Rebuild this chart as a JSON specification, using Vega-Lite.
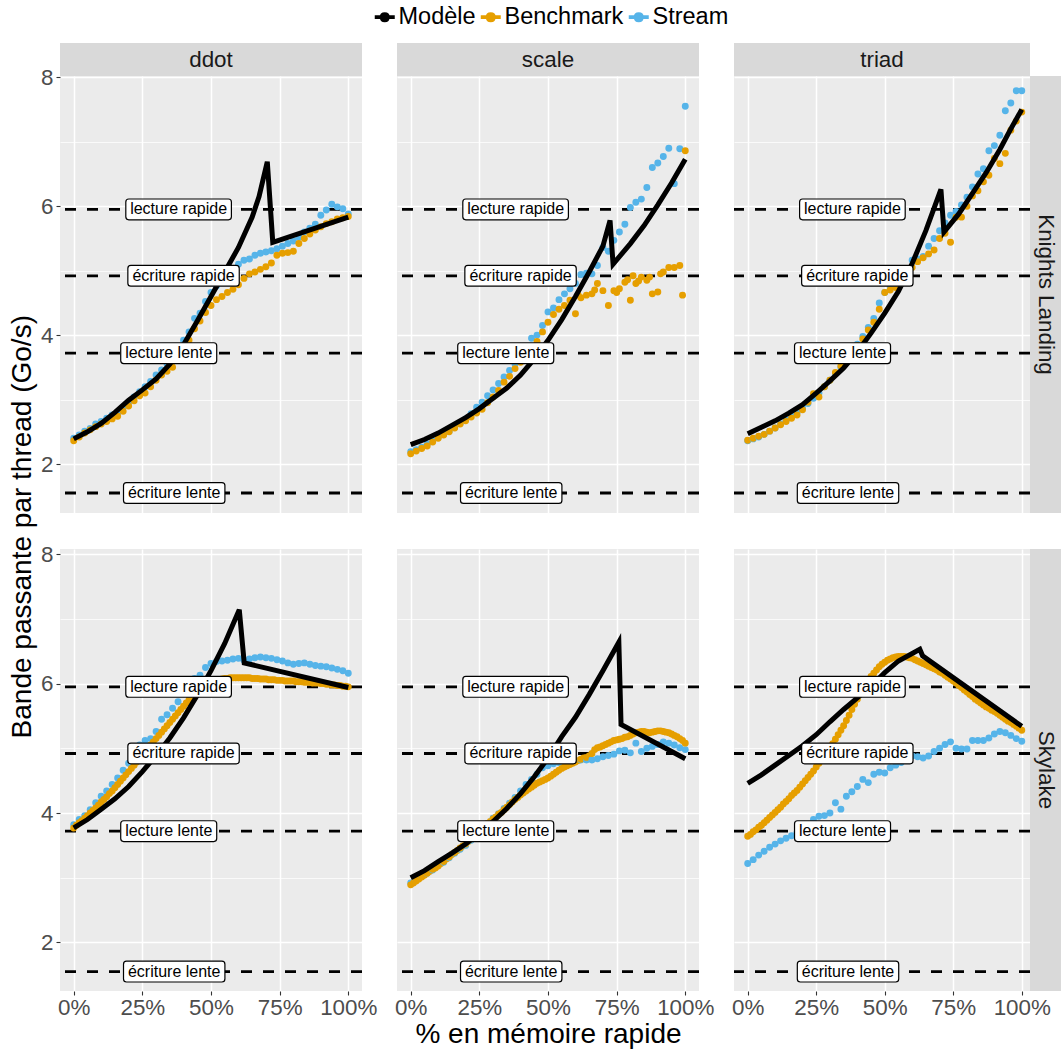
{
"$schema": "https://vega.github.io/schema/vega-lite/v6.json",
"padding": {"left": 8, "top": 5, "right": 0, "bottom": 0},
"background": "white",
"title": {"text": "Bande passante par thread (Go/s)", "orient": "left", "anchor": "middle", "fontSize": 28, "fontWeight": "normal", "font": "Liberation Sans", "color": "#000000", "offset": 4},
"config": {
 "font": "Liberation Sans",
 "view": {"stroke": null},
 "axis": {"domain": false, "gridColor": "#FFFFFF", "tickColor": "#333333", "tickSize": 4, "tickWidth": 1.1, "labelColor": "#4D4D4D", "labelFontSize": 22.4, "labelFont": "Liberation Sans", "labelPadding": 3, "titleFontSize": 28, "titleFont": "Liberation Sans", "titleFontWeight": "normal", "titleColor": "#000000", "labelFlush": false, "labelOverlap": false, "titlePadding": 2},
 "axisX": {"labelPadding": 1}
},
"datasets": {
 "hl": [
  {"y": 5.95, "lab": "lecture rapide", "lx": 0.382},
  {"y": 4.92, "lab": "écriture rapide", "lx": 0.40},
  {"y": 3.72, "lab": "lecture lente", "lx": 0.346},
  {"y": 1.55, "lab": "écriture lente", "lx": 0.366}
 ],
 "kd": [
  {"x":0,"Benchmark":2.36,"Stream":2.40},{"x":0.02,"Benchmark":2.42,"Stream":2.45},{"x":0.04,"Benchmark":2.48,"Stream":2.51},{"x":0.06,"Benchmark":2.53,"Stream":2.55},{"x":0.08,"Benchmark":2.58,"Stream":2.62},{"x":0.1,"Benchmark":2.62,"Stream":2.66},{"x":0.12,"Benchmark":2.66,"Stream":2.71},{"x":0.14,"Benchmark":2.70,"Stream":2.76},{"x":0.16,"Benchmark":2.74,"Stream":2.80},{"x":0.18,"Benchmark":2.82,"Stream":2.88},{"x":0.2,"Benchmark":2.90,"Stream":2.96},{"x":0.22,"Benchmark":2.98,"Stream":3.04},{"x":0.24,"Benchmark":3.06,"Stream":3.12},{"x":0.26,"Benchmark":3.10,"Stream":3.20},{"x":0.28,"Benchmark":3.20,"Stream":3.28},{"x":0.3,"Benchmark":3.30,"Stream":3.38},{"x":0.32,"Benchmark":3.38,"Stream":3.46},{"x":0.34,"Benchmark":3.44,"Stream":3.55},{"x":0.36,"Benchmark":3.50,"Stream":3.65},{"x":0.38,"Benchmark":3.66,"Stream":3.78},{"x":0.4,"Benchmark":3.82,"Stream":3.92},{"x":0.42,"Benchmark":3.92,"Stream":4.05},{"x":0.44,"Benchmark":4.10,"Stream":4.26},{"x":0.46,"Benchmark":4.22,"Stream":4.34},{"x":0.48,"Benchmark":4.35,"Stream":4.52},{"x":0.5,"Benchmark":4.46,"Stream":4.66},{"x":0.52,"Benchmark":4.55,"Stream":4.76},{"x":0.54,"Benchmark":4.60,"Stream":4.86},{"x":0.56,"Benchmark":4.66,"Stream":4.94},{"x":0.58,"Benchmark":4.71,"Stream":5.02},{"x":0.6,"Benchmark":4.78,"Stream":5.10},{"x":0.62,"Benchmark":4.88,"Stream":5.16},{"x":0.64,"Benchmark":4.95,"Stream":5.18},{"x":0.66,"Benchmark":4.98,"Stream":5.24},{"x":0.68,"Benchmark":5.02,"Stream":5.27},{"x":0.7,"Benchmark":5.06,"Stream":5.29},{"x":0.72,"Benchmark":5.12,"Stream":5.31},{"x":0.74,"Benchmark":5.24,"Stream":5.34},{"x":0.76,"Benchmark":5.27,"Stream":5.38},{"x":0.78,"Benchmark":5.28,"Stream":5.42},{"x":0.8,"Benchmark":5.30,"Stream":5.46},{"x":0.82,"Benchmark":5.42,"Stream":5.52},{"x":0.84,"Benchmark":5.50,"Stream":5.60},{"x":0.86,"Benchmark":5.57,"Stream":5.66},{"x":0.88,"Benchmark":5.63,"Stream":5.72},{"x":0.9,"Benchmark":5.68,"Stream":5.86},{"x":0.92,"Benchmark":5.73,"Stream":5.94},{"x":0.94,"Benchmark":5.76,"Stream":6.03},{"x":0.96,"Benchmark":5.80,"Stream":5.99},{"x":0.98,"Benchmark":5.82,"Stream":5.96},{"x":1,"Benchmark":5.84,"Stream":5.88}
 ],
 "ks": [
  {"x":0,"Benchmark":2.16,"Stream":2.19},{"x":0.02,"Benchmark":2.20,"Stream":2.22},{"x":0.04,"Benchmark":2.24,"Stream":2.26},{"x":0.06,"Benchmark":2.28,"Stream":2.31},{"x":0.08,"Benchmark":2.34,"Stream":2.36},{"x":0.1,"Benchmark":2.40,"Stream":2.41},{"x":0.12,"Benchmark":2.45,"Stream":2.46},{"x":0.14,"Benchmark":2.50,"Stream":2.51},{"x":0.16,"Benchmark":2.56,"Stream":2.57},{"x":0.18,"Benchmark":2.62,"Stream":2.63},{"x":0.2,"Benchmark":2.67,"Stream":2.70},{"x":0.22,"Benchmark":2.73,"Stream":2.78},{"x":0.24,"Benchmark":2.79,"Stream":2.88},{"x":0.26,"Benchmark":2.85,"Stream":2.96},{"x":0.28,"Benchmark":2.95,"Stream":3.06},{"x":0.3,"Benchmark":3.04,"Stream":3.15},{"x":0.32,"Benchmark":3.14,"Stream":3.25},{"x":0.34,"Benchmark":3.27,"Stream":3.35},{"x":0.36,"Benchmark":3.36,"Stream":3.45},{"x":0.38,"Benchmark":3.48,"Stream":3.55},{"x":0.4,"Benchmark":3.58,"Stream":3.68},{"x":0.42,"Benchmark":3.71,"Stream":3.80},{"x":0.44,"Benchmark":3.80,"Stream":3.95},{"x":0.46,"Benchmark":3.90,"Stream":4.00},{"x":0.48,"Benchmark":4.05,"Stream":4.15},{"x":0.5,"Benchmark":4.20,"Stream":4.36},{"x":0.52,"Benchmark":4.32,"Stream":4.42},{"x":0.54,"Benchmark":4.40,"Stream":4.55},{"x":0.56,"Benchmark":4.46,"Stream":4.64},{"x":0.58,"Benchmark":4.54,"Stream":4.72},{"x":0.6,"Benchmark":4.33,"Stream":4.80},{"x":0.61,"Benchmark":4.62},{"x":0.62,"Benchmark":4.58,"Stream":4.94},{"x":0.64,"Benchmark":4.62,"Stream":4.96},{"x":0.66,"Benchmark":4.64,"Stream":4.95},{"x":0.67,"Benchmark":4.70},{"x":0.68,"Benchmark":4.80,"Stream":5.08},{"x":0.7,"Benchmark":4.69,"Stream":5.36},{"x":0.72,"Benchmark":4.46,"Stream":5.30},{"x":0.74,"Benchmark":4.69,"Stream":5.47},{"x":0.75,"Benchmark":4.66},{"x":0.76,"Benchmark":4.72,"Stream":5.60},{"x":0.78,"Benchmark":4.82,"Stream":5.72},{"x":0.79,"Benchmark":4.86},{"x":0.8,"Benchmark":4.54,"Stream":5.98},{"x":0.81,"Benchmark":4.92},{"x":0.82,"Benchmark":4.80,"Stream":6.06},{"x":0.83,"Benchmark":4.84},{"x":0.84,"Benchmark":4.90,"Stream":6.11},{"x":0.86,"Benchmark":4.85,"Stream":6.29},{"x":0.87,"Benchmark":4.90},{"x":0.88,"Benchmark":4.64,"Stream":6.60},{"x":0.9,"Benchmark":4.67,"Stream":6.67},{"x":0.91,"Benchmark":4.95},{"x":0.92,"Benchmark":4.98,"Stream":6.77},{"x":0.94,"Benchmark":5.05,"Stream":6.90},{"x":0.96,"Benchmark":5.05,"Stream":6.35},{"x":0.98,"Benchmark":5.08,"Stream":6.89},{"x":0.99,"Benchmark":4.62},{"x":1,"Benchmark":6.86,"Stream":7.55}
 ],
 "kt": [
  {"x":0,"Benchmark":2.37,"Stream":2.36},{"x":0.02,"Benchmark":2.40,"Stream":2.39},{"x":0.04,"Benchmark":2.43,"Stream":2.42},{"x":0.06,"Benchmark":2.46,"Stream":2.46},{"x":0.08,"Benchmark":2.51,"Stream":2.51},{"x":0.1,"Benchmark":2.56,"Stream":2.56},{"x":0.12,"Benchmark":2.61,"Stream":2.62},{"x":0.14,"Benchmark":2.66,"Stream":2.68},{"x":0.16,"Benchmark":2.71,"Stream":2.74},{"x":0.18,"Benchmark":2.76,"Stream":2.80},{"x":0.2,"Benchmark":2.84,"Stream":2.87},{"x":0.22,"Benchmark":2.96,"Stream":2.94},{"x":0.24,"Benchmark":3.09,"Stream":3.02},{"x":0.26,"Benchmark":3.04,"Stream":3.10},{"x":0.28,"Benchmark":3.20,"Stream":3.20},{"x":0.3,"Benchmark":3.30,"Stream":3.30},{"x":0.32,"Benchmark":3.42,"Stream":3.40},{"x":0.34,"Benchmark":3.52,"Stream":3.50},{"x":0.36,"Benchmark":3.58,"Stream":3.62},{"x":0.38,"Benchmark":3.70,"Stream":3.74},{"x":0.4,"Benchmark":3.84,"Stream":3.86},{"x":0.42,"Benchmark":3.94,"Stream":3.98},{"x":0.44,"Benchmark":4.08,"Stream":4.12},{"x":0.46,"Benchmark":4.20,"Stream":4.26},{"x":0.48,"Benchmark":4.40,"Stream":4.50},{"x":0.5,"Benchmark":4.66,"Stream":4.66},{"x":0.52,"Benchmark":4.70,"Stream":4.76},{"x":0.54,"Benchmark":4.74,"Stream":4.84},{"x":0.56,"Benchmark":4.80,"Stream":4.92},{"x":0.58,"Benchmark":4.90,"Stream":5.00},{"x":0.6,"Benchmark":5.05,"Stream":5.16},{"x":0.62,"Benchmark":5.14,"Stream":5.18},{"x":0.64,"Benchmark":5.20,"Stream":5.22},{"x":0.66,"Benchmark":5.26,"Stream":5.38},{"x":0.68,"Benchmark":5.32,"Stream":5.50},{"x":0.7,"Benchmark":5.50,"Stream":5.62},{"x":0.72,"Benchmark":5.58,"Stream":5.74},{"x":0.74,"Benchmark":5.44,"Stream":5.86},{"x":0.76,"Benchmark":5.83,"Stream":5.92},{"x":0.78,"Benchmark":5.83,"Stream":6.02},{"x":0.8,"Benchmark":6.00,"Stream":6.14},{"x":0.82,"Benchmark":6.16,"Stream":6.30},{"x":0.84,"Benchmark":6.24,"Stream":6.50},{"x":0.86,"Benchmark":6.38,"Stream":6.58},{"x":0.88,"Benchmark":6.48,"Stream":6.86},{"x":0.9,"Benchmark":6.74,"Stream":6.94},{"x":0.92,"Benchmark":6.66,"Stream":7.10},{"x":0.94,"Benchmark":6.82,"Stream":7.48},{"x":0.96,"Benchmark":7.18,"Stream":7.60},{"x":0.98,"Benchmark":7.32,"Stream":7.79},{"x":1,"Benchmark":7.46,"Stream":7.79}
 ],
 "sd": [
  {"x":0,"Benchmark":3.77,"Stream":3.82},{"x":0.01,"Benchmark":3.81},{"x":0.02,"Benchmark":3.85,"Stream":3.90},{"x":0.03,"Benchmark":3.88},{"x":0.04,"Benchmark":3.92,"Stream":3.96},{"x":0.05,"Benchmark":3.96},{"x":0.06,"Benchmark":4.00,"Stream":4.05},{"x":0.07,"Benchmark":4.04},{"x":0.08,"Benchmark":4.08,"Stream":4.16},{"x":0.09,"Benchmark":4.12},{"x":0.1,"Benchmark":4.17,"Stream":4.26},{"x":0.11,"Benchmark":4.21},{"x":0.12,"Benchmark":4.25,"Stream":4.34},{"x":0.13,"Benchmark":4.30},{"x":0.14,"Benchmark":4.34,"Stream":4.44},{"x":0.15,"Benchmark":4.39},{"x":0.16,"Benchmark":4.44,"Stream":4.54},{"x":0.17,"Benchmark":4.49},{"x":0.18,"Benchmark":4.54,"Stream":4.66},{"x":0.19,"Benchmark":4.59},{"x":0.2,"Benchmark":4.64,"Stream":4.77},{"x":0.21,"Benchmark":4.69},{"x":0.22,"Benchmark":4.74,"Stream":4.88},{"x":0.23,"Benchmark":4.79},{"x":0.24,"Benchmark":4.85,"Stream":5.05},{"x":0.25,"Benchmark":4.90},{"x":0.26,"Benchmark":4.95,"Stream":5.12},{"x":0.27,"Benchmark":5.00},{"x":0.28,"Benchmark":5.05,"Stream":5.15},{"x":0.29,"Benchmark":5.10},{"x":0.3,"Benchmark":5.15,"Stream":5.26},{"x":0.31,"Benchmark":5.20},{"x":0.32,"Benchmark":5.25,"Stream":5.45},{"x":0.33,"Benchmark":5.30},{"x":0.34,"Benchmark":5.35,"Stream":5.52},{"x":0.35,"Benchmark":5.40},{"x":0.36,"Benchmark":5.45,"Stream":5.62},{"x":0.37,"Benchmark":5.50},{"x":0.38,"Benchmark":5.55,"Stream":5.72},{"x":0.39,"Benchmark":5.60},{"x":0.4,"Benchmark":5.65,"Stream":5.88},{"x":0.41,"Benchmark":5.70},{"x":0.42,"Benchmark":5.75,"Stream":6.00},{"x":0.43,"Benchmark":5.80},{"x":0.44,"Benchmark":5.84,"Stream":6.08},{"x":0.45,"Benchmark":5.88},{"x":0.46,"Benchmark":5.92,"Stream":6.13},{"x":0.47,"Benchmark":5.95},{"x":0.48,"Benchmark":5.98,"Stream":6.25},{"x":0.49,"Benchmark":6.00},{"x":0.5,"Benchmark":6.02,"Stream":6.31},{"x":0.51,"Benchmark":6.04},{"x":0.52,"Benchmark":6.05,"Stream":6.34},{"x":0.53,"Benchmark":6.06},{"x":0.54,"Benchmark":6.07,"Stream":6.35},{"x":0.55,"Benchmark":6.08},{"x":0.56,"Benchmark":6.08,"Stream":6.36},{"x":0.57,"Benchmark":6.09},{"x":0.58,"Benchmark":6.09,"Stream":6.38},{"x":0.59,"Benchmark":6.09},{"x":0.6,"Benchmark":6.09,"Stream":6.39},{"x":0.61,"Benchmark":6.09},{"x":0.62,"Benchmark":6.09,"Stream":6.36},{"x":0.63,"Benchmark":6.09},{"x":0.64,"Benchmark":6.09,"Stream":6.38},{"x":0.65,"Benchmark":6.08},{"x":0.66,"Benchmark":6.08,"Stream":6.40},{"x":0.67,"Benchmark":6.08},{"x":0.68,"Benchmark":6.07,"Stream":6.41},{"x":0.69,"Benchmark":6.07},{"x":0.7,"Benchmark":6.07,"Stream":6.40},{"x":0.71,"Benchmark":6.06},{"x":0.72,"Benchmark":6.06,"Stream":6.39},{"x":0.73,"Benchmark":6.06},{"x":0.74,"Benchmark":6.05,"Stream":6.37},{"x":0.75,"Benchmark":6.05},{"x":0.76,"Benchmark":6.05,"Stream":6.35},{"x":0.77,"Benchmark":6.04},{"x":0.78,"Benchmark":6.04,"Stream":6.32},{"x":0.79,"Benchmark":6.04},{"x":0.8,"Benchmark":6.04,"Stream":6.30},{"x":0.81,"Benchmark":6.03},{"x":0.82,"Benchmark":6.03,"Stream":6.31},{"x":0.83,"Benchmark":6.03},{"x":0.84,"Benchmark":6.02,"Stream":6.32},{"x":0.85,"Benchmark":6.02},{"x":0.86,"Benchmark":6.02,"Stream":6.30},{"x":0.87,"Benchmark":6.01},{"x":0.88,"Benchmark":6.01,"Stream":6.28},{"x":0.89,"Benchmark":6.01},{"x":0.9,"Benchmark":6.00,"Stream":6.27},{"x":0.91,"Benchmark":6.00},{"x":0.92,"Benchmark":5.99,"Stream":6.26},{"x":0.93,"Benchmark":5.99},{"x":0.94,"Benchmark":5.98,"Stream":6.24},{"x":0.95,"Benchmark":5.98},{"x":0.96,"Benchmark":5.97,"Stream":6.22},{"x":0.97,"Benchmark":5.97},{"x":0.98,"Benchmark":5.96,"Stream":6.20},{"x":0.99,"Benchmark":5.96},{"x":1,"Benchmark":5.95,"Stream":6.16}
 ],
 "ss": [
  {"x":0,"Benchmark":2.89,"Stream":2.92},{"x":0.01,"Benchmark":2.92},{"x":0.02,"Benchmark":2.95,"Stream":2.96},{"x":0.03,"Benchmark":2.98},{"x":0.04,"Benchmark":3.01,"Stream":3.02},{"x":0.05,"Benchmark":3.04},{"x":0.06,"Benchmark":3.07,"Stream":3.07},{"x":0.07,"Benchmark":3.10},{"x":0.08,"Benchmark":3.13,"Stream":3.12},{"x":0.09,"Benchmark":3.15},{"x":0.1,"Benchmark":3.18,"Stream":3.19},{"x":0.11,"Benchmark":3.22},{"x":0.12,"Benchmark":3.25,"Stream":3.24},{"x":0.13,"Benchmark":3.29},{"x":0.14,"Benchmark":3.32,"Stream":3.31},{"x":0.15,"Benchmark":3.36},{"x":0.16,"Benchmark":3.39,"Stream":3.38},{"x":0.17,"Benchmark":3.42},{"x":0.18,"Benchmark":3.46,"Stream":3.44},{"x":0.19,"Benchmark":3.49},{"x":0.2,"Benchmark":3.52,"Stream":3.50},{"x":0.21,"Benchmark":3.56},{"x":0.22,"Benchmark":3.60,"Stream":3.58},{"x":0.23,"Benchmark":3.64},{"x":0.24,"Benchmark":3.68,"Stream":3.66},{"x":0.25,"Benchmark":3.72},{"x":0.26,"Benchmark":3.76,"Stream":3.75},{"x":0.27,"Benchmark":3.80},{"x":0.28,"Benchmark":3.84,"Stream":3.84},{"x":0.29,"Benchmark":3.87},{"x":0.3,"Benchmark":3.91,"Stream":3.92},{"x":0.31,"Benchmark":3.94},{"x":0.32,"Benchmark":3.98,"Stream":3.99},{"x":0.33,"Benchmark":4.01},{"x":0.34,"Benchmark":4.05,"Stream":4.07},{"x":0.35,"Benchmark":4.09},{"x":0.36,"Benchmark":4.13,"Stream":4.15},{"x":0.37,"Benchmark":4.17},{"x":0.38,"Benchmark":4.21,"Stream":4.24},{"x":0.39,"Benchmark":4.24},{"x":0.4,"Benchmark":4.28,"Stream":4.34},{"x":0.41,"Benchmark":4.31},{"x":0.42,"Benchmark":4.34,"Stream":4.44},{"x":0.43,"Benchmark":4.37},{"x":0.44,"Benchmark":4.40,"Stream":4.52},{"x":0.45,"Benchmark":4.43},{"x":0.46,"Benchmark":4.46,"Stream":4.60},{"x":0.47,"Benchmark":4.48},{"x":0.48,"Benchmark":4.50,"Stream":4.70},{"x":0.49,"Benchmark":4.52},{"x":0.5,"Benchmark":4.54,"Stream":4.73},{"x":0.51,"Benchmark":4.57},{"x":0.52,"Benchmark":4.60,"Stream":4.76},{"x":0.53,"Benchmark":4.63},{"x":0.54,"Benchmark":4.66,"Stream":4.78},{"x":0.55,"Benchmark":4.69},{"x":0.56,"Benchmark":4.71,"Stream":4.80},{"x":0.57,"Benchmark":4.73},{"x":0.58,"Benchmark":4.75,"Stream":4.80},{"x":0.59,"Benchmark":4.77},{"x":0.6,"Benchmark":4.79,"Stream":4.81},{"x":0.61,"Benchmark":4.81},{"x":0.62,"Benchmark":4.83,"Stream":4.82},{"x":0.63,"Benchmark":4.85},{"x":0.64,"Benchmark":4.86,"Stream":4.82},{"x":0.65,"Benchmark":4.88},{"x":0.66,"Benchmark":4.92,"Stream":4.82},{"x":0.67,"Benchmark":4.98},{"x":0.68,"Benchmark":5.01,"Stream":4.84},{"x":0.69,"Benchmark":5.02},{"x":0.7,"Benchmark":5.04,"Stream":4.87},{"x":0.71,"Benchmark":5.06},{"x":0.72,"Benchmark":5.08,"Stream":4.89},{"x":0.73,"Benchmark":5.10},{"x":0.74,"Benchmark":5.12,"Stream":4.91},{"x":0.75,"Benchmark":5.13},{"x":0.76,"Benchmark":5.14,"Stream":4.96},{"x":0.77,"Benchmark":5.15},{"x":0.78,"Benchmark":5.17,"Stream":4.97},{"x":0.79,"Benchmark":5.18},{"x":0.8,"Benchmark":5.20,"Stream":4.93},{"x":0.81,"Benchmark":5.22},{"x":0.82,"Benchmark":5.24,"Stream":5.08},{"x":0.83,"Benchmark":5.25},{"x":0.84,"Benchmark":5.26,"Stream":4.95},{"x":0.85,"Benchmark":5.26},{"x":0.86,"Benchmark":5.25,"Stream":5.00},{"x":0.87,"Benchmark":5.24},{"x":0.88,"Benchmark":5.25,"Stream":5.03},{"x":0.89,"Benchmark":5.26},{"x":0.9,"Benchmark":5.27,"Stream":5.06},{"x":0.91,"Benchmark":5.27},{"x":0.92,"Benchmark":5.26,"Stream":5.10},{"x":0.93,"Benchmark":5.25},{"x":0.94,"Benchmark":5.24,"Stream":5.08},{"x":0.95,"Benchmark":5.22},{"x":0.96,"Benchmark":5.20,"Stream":5.05},{"x":0.97,"Benchmark":5.18},{"x":0.98,"Benchmark":5.15,"Stream":5.01},{"x":0.99,"Benchmark":5.12},{"x":1,"Benchmark":5.08,"Stream":4.98}
 ],
 "st": [
  {"x":0,"Benchmark":3.64,"Stream":3.22},{"x":0.01,"Benchmark":3.67},{"x":0.02,"Benchmark":3.71,"Stream":3.28},{"x":0.03,"Benchmark":3.74},{"x":0.04,"Benchmark":3.78,"Stream":3.35},{"x":0.05,"Benchmark":3.81},{"x":0.06,"Benchmark":3.85,"Stream":3.41},{"x":0.07,"Benchmark":3.89},{"x":0.08,"Benchmark":3.93,"Stream":3.47},{"x":0.09,"Benchmark":3.97},{"x":0.1,"Benchmark":4.01,"Stream":3.52},{"x":0.11,"Benchmark":4.05},{"x":0.12,"Benchmark":4.09,"Stream":3.57},{"x":0.13,"Benchmark":4.14},{"x":0.14,"Benchmark":4.18,"Stream":3.61},{"x":0.15,"Benchmark":4.22},{"x":0.16,"Benchmark":4.27,"Stream":3.65},{"x":0.17,"Benchmark":4.31},{"x":0.18,"Benchmark":4.35,"Stream":3.70},{"x":0.19,"Benchmark":4.40},{"x":0.2,"Benchmark":4.45,"Stream":3.74},{"x":0.21,"Benchmark":4.50},{"x":0.22,"Benchmark":4.55,"Stream":3.80},{"x":0.23,"Benchmark":4.60},{"x":0.24,"Benchmark":4.65,"Stream":3.90},{"x":0.25,"Benchmark":4.71},{"x":0.26,"Benchmark":4.77,"Stream":3.95},{"x":0.27,"Benchmark":4.83},{"x":0.28,"Benchmark":4.88,"Stream":3.96},{"x":0.29,"Benchmark":4.94},{"x":0.3,"Benchmark":5.00,"Stream":4.00},{"x":0.31,"Benchmark":5.07},{"x":0.32,"Benchmark":5.14,"Stream":4.16},{"x":0.33,"Benchmark":5.21},{"x":0.34,"Benchmark":5.28,"Stream":4.06},{"x":0.35,"Benchmark":5.35},{"x":0.36,"Benchmark":5.43,"Stream":4.26},{"x":0.37,"Benchmark":5.51},{"x":0.38,"Benchmark":5.60,"Stream":4.33},{"x":0.39,"Benchmark":5.68},{"x":0.4,"Benchmark":5.76,"Stream":4.41},{"x":0.41,"Benchmark":5.84},{"x":0.42,"Benchmark":5.92,"Stream":4.52},{"x":0.43,"Benchmark":5.99},{"x":0.44,"Benchmark":6.05,"Stream":4.47},{"x":0.45,"Benchmark":6.11},{"x":0.46,"Benchmark":6.16,"Stream":4.60},{"x":0.47,"Benchmark":6.21},{"x":0.48,"Benchmark":6.26,"Stream":4.63},{"x":0.49,"Benchmark":6.30},{"x":0.5,"Benchmark":6.33,"Stream":4.62},{"x":0.51,"Benchmark":6.36},{"x":0.52,"Benchmark":6.38,"Stream":4.70},{"x":0.53,"Benchmark":6.40},{"x":0.54,"Benchmark":6.41,"Stream":4.74},{"x":0.55,"Benchmark":6.42},{"x":0.56,"Benchmark":6.42,"Stream":4.78},{"x":0.57,"Benchmark":6.42},{"x":0.58,"Benchmark":6.41,"Stream":4.82},{"x":0.59,"Benchmark":6.40},{"x":0.6,"Benchmark":6.39,"Stream":4.88},{"x":0.61,"Benchmark":6.37},{"x":0.62,"Benchmark":6.35,"Stream":4.87},{"x":0.63,"Benchmark":6.33},{"x":0.64,"Benchmark":6.31,"Stream":4.85},{"x":0.65,"Benchmark":6.29},{"x":0.66,"Benchmark":6.27,"Stream":4.88},{"x":0.67,"Benchmark":6.25},{"x":0.68,"Benchmark":6.23,"Stream":4.95},{"x":0.69,"Benchmark":6.21},{"x":0.7,"Benchmark":6.18,"Stream":5.00},{"x":0.71,"Benchmark":6.16},{"x":0.72,"Benchmark":6.13,"Stream":5.06},{"x":0.73,"Benchmark":6.10},{"x":0.74,"Benchmark":6.07,"Stream":5.10},{"x":0.75,"Benchmark":6.04},{"x":0.76,"Benchmark":6.01,"Stream":5.00},{"x":0.77,"Benchmark":5.97},{"x":0.78,"Benchmark":5.94,"Stream":4.99},{"x":0.79,"Benchmark":5.90},{"x":0.8,"Benchmark":5.87,"Stream":4.99},{"x":0.81,"Benchmark":5.83},{"x":0.82,"Benchmark":5.80,"Stream":5.12},{"x":0.83,"Benchmark":5.76},{"x":0.84,"Benchmark":5.73,"Stream":5.12},{"x":0.85,"Benchmark":5.70},{"x":0.86,"Benchmark":5.67,"Stream":5.12},{"x":0.87,"Benchmark":5.64},{"x":0.88,"Benchmark":5.62,"Stream":5.16},{"x":0.89,"Benchmark":5.59},{"x":0.9,"Benchmark":5.57,"Stream":5.22},{"x":0.91,"Benchmark":5.54},{"x":0.92,"Benchmark":5.51,"Stream":5.26},{"x":0.93,"Benchmark":5.48},{"x":0.94,"Benchmark":5.45,"Stream":5.24},{"x":0.95,"Benchmark":5.42},{"x":0.96,"Benchmark":5.40,"Stream":5.20},{"x":0.97,"Benchmark":5.37},{"x":0.98,"Benchmark":5.34,"Stream":5.15},{"x":0.99,"Benchmark":5.31},{"x":1,"Benchmark":5.28,"Stream":5.11}
 ],
 "kdm": [{"x":0,"y":2.39},{"x":0.05,"y":2.5},{"x":0.1,"y":2.63},{"x":0.15,"y":2.8},{"x":0.2,"y":2.99},{"x":0.25,"y":3.15},{"x":0.3,"y":3.32},{"x":0.35,"y":3.55},{"x":0.4,"y":3.85},{"x":0.45,"y":4.22},{"x":0.5,"y":4.6},{"x":0.55,"y":4.98},{"x":0.6,"y":5.36},{"x":0.65,"y":5.83},{"x":0.675,"y":6.15},{"x":0.705,"y":6.69},{"x":0.725,"y":5.44},{"x":1,"y":5.83}],
 "ksm": [{"x":0,"y":2.3},{"x":0.05,"y":2.38},{"x":0.1,"y":2.48},{"x":0.15,"y":2.6},{"x":0.2,"y":2.72},{"x":0.25,"y":2.86},{"x":0.3,"y":3.02},{"x":0.35,"y":3.18},{"x":0.4,"y":3.38},{"x":0.45,"y":3.63},{"x":0.5,"y":3.92},{"x":0.55,"y":4.24},{"x":0.6,"y":4.6},{"x":0.65,"y":4.98},{"x":0.7,"y":5.38},{"x":0.726,"y":5.78},{"x":0.737,"y":5.1},{"x":0.8,"y":5.42},{"x":0.85,"y":5.7},{"x":0.9,"y":6.02},{"x":0.95,"y":6.36},{"x":1,"y":6.73}],
 "ktm": [{"x":0,"y":2.47},{"x":0.05,"y":2.57},{"x":0.1,"y":2.67},{"x":0.15,"y":2.79},{"x":0.2,"y":2.92},{"x":0.25,"y":3.1},{"x":0.3,"y":3.29},{"x":0.35,"y":3.49},{"x":0.4,"y":3.74},{"x":0.45,"y":4.03},{"x":0.5,"y":4.34},{"x":0.55,"y":4.68},{"x":0.6,"y":5.11},{"x":0.65,"y":5.62},{"x":0.705,"y":6.26},{"x":0.716,"y":5.6},{"x":0.77,"y":5.88},{"x":0.82,"y":6.2},{"x":0.87,"y":6.52},{"x":0.92,"y":6.88},{"x":0.96,"y":7.2},{"x":1,"y":7.5}],
 "sdm": [{"x":0,"y":3.77},{"x":0.05,"y":3.9},{"x":0.1,"y":4.06},{"x":0.15,"y":4.22},{"x":0.2,"y":4.41},{"x":0.25,"y":4.64},{"x":0.3,"y":4.89},{"x":0.35,"y":5.16},{"x":0.4,"y":5.47},{"x":0.45,"y":5.82},{"x":0.5,"y":6.2},{"x":0.55,"y":6.62},{"x":0.603,"y":7.14},{"x":0.621,"y":6.32},{"x":1,"y":5.94}],
 "ssm": [{"x":0,"y":3.0},{"x":0.05,"y":3.11},{"x":0.1,"y":3.25},{"x":0.15,"y":3.38},{"x":0.2,"y":3.52},{"x":0.25,"y":3.69},{"x":0.3,"y":3.87},{"x":0.35,"y":4.07},{"x":0.4,"y":4.3},{"x":0.45,"y":4.56},{"x":0.5,"y":4.85},{"x":0.55,"y":5.18},{"x":0.6,"y":5.48},{"x":0.65,"y":5.83},{"x":0.7,"y":6.2},{"x":0.758,"y":6.64},{"x":0.766,"y":5.37},{"x":1,"y":4.84}],
 "stm": [{"x":0,"y":4.46},{"x":0.05,"y":4.59},{"x":0.1,"y":4.74},{"x":0.15,"y":4.89},{"x":0.2,"y":5.04},{"x":0.25,"y":5.21},{"x":0.3,"y":5.41},{"x":0.35,"y":5.6},{"x":0.4,"y":5.78},{"x":0.45,"y":5.96},{"x":0.5,"y":6.17},{"x":0.55,"y":6.35},{"x":0.628,"y":6.53},{"x":0.638,"y":6.43},{"x":1,"y":5.34}]
},
"columns": 6,
"spacing": 0,
"bounds": "flush",
"align": "each",
"concat": [
 {"width": 302, "height": 33, "view": {"fill": "#D9D9D9", "stroke": null}, "data": {"values": [{"t": "ddot"}]}, "mark": {"type": "text", "fontSize": 22.4, "font": "Liberation Sans", "color": "#1A1A1A", "baseline": "middle", "align": "center"}, "encoding": {"text": {"field": "t"}}},
 {"width": 35, "height": 33, "data": {"values": []}, "mark": "point"},
 {"width": 302, "height": 33, "view": {"fill": "#D9D9D9", "stroke": null}, "data": {"values": [{"t": "scale"}]}, "mark": {"type": "text", "fontSize": 22.4, "font": "Liberation Sans", "color": "#1A1A1A", "baseline": "middle", "align": "center"}, "encoding": {"text": {"field": "t"}}},
 {"width": 35, "height": 33, "data": {"values": []}, "mark": "point"},
 {"width": 296, "height": 33, "view": {"fill": "#D9D9D9", "stroke": null}, "data": {"values": [{"t": "triad"}]}, "mark": {"type": "text", "fontSize": 22.4, "font": "Liberation Sans", "color": "#1A1A1A", "baseline": "middle", "align": "center"}, "encoding": {"text": {"field": "t"}}},
 {"width": 31, "height": 33, "data": {"values": []}, "mark": "point"},

 {"width": 302, "height": 437, "view": {"fill": "#EBEBEB", "stroke": null}, "layer": [
  {"data": {"name": "hl"}, "mark": {"type": "rule", "strokeDash": [11, 11], "strokeWidth": 2.8, "color": "#000000"}, "encoding": {"y": {"field": "y", "type": "quantitative", "scale": {"domain": [1.24, 8.02], "nice": false, "zero": false}, "axis": {"title": null, "values": [2,3,4,5,6,7,8], "labelExpr": "datum.value % 2 === 0 ? format(datum.value, 'd') : ''", "gridWidth": {"condition": {"test": "datum.value % 2 === 0", "value": 1.5}, "value": 0.75}, "tickOpacity": {"condition": {"test": "datum.value % 2 === 0", "value": 1}, "value": 0}}}}},
  {"data": {"name": "kd"}, "transform": [{"fold": ["Stream", "Benchmark"], "as": ["serie", "bw"]}], "mark": {"type": "circle", "size": 48, "opacity": 1}, "encoding": {"x": {"field": "x", "type": "quantitative", "scale": {"domain": [-0.05, 1.05], "nice": false, "zero": false}, "axis": {"title": null, "values": [0,0.125,0.25,0.375,0.5,0.625,0.75,0.875,1], "labels": false, "ticks": false, "gridWidth": {"condition": {"test": "datum.value*4 % 1 === 0", "value": 1.5}, "value": 0.75}}}, "y": {"field": "bw", "type": "quantitative"}, "color": {"field": "serie", "type": "nominal", "scale": {"domain": ["Modèle", "Benchmark", "Stream"], "range": ["#000000", "#E69F00", "#56B4E9"]}, "legend": {"orient": "none", "legendX": 313, "legendY": -38, "direction": "horizontal", "title": null, "labelFontSize": 23.5, "labelFont": "Liberation Sans", "labelColor": "#000000", "symbolType": "M-1,-0.18H1V0.18H-1Z M-0.5,0Q-0.5,-0.5,0,-0.5Q0.5,-0.5,0.5,0Q0.5,0.5,0,0.5Q-0.5,0.5,-0.5,0Z", "symbolSize": 400, "symbolStrokeWidth": 0, "labelOffset": 2, "columnPadding": 3, "encode": {"symbols": {"update": {"fill": {"scale": "color", "field": "value"}, "stroke": {"value": "transparent"}}}}}}}},
  {"data": {"name": "kdm"}, "mark": {"type": "line", "strokeWidth": 5, "strokeJoin": "miter"}, "encoding": {"x": {"field": "x", "type": "quantitative"}, "y": {"field": "y", "type": "quantitative"}, "color": {"datum": "Modèle", "type": "nominal"}}},
  {"data": {"name": "hl"}, "mark": {"type": "point", "filled": true, "size": 400, "fill": "#FFFFFF", "stroke": "#000000", "strokeWidth": 1.2, "opacity": 1}, "encoding": {"x": {"field": "lx", "type": "quantitative"}, "y": {"field": "y", "type": "quantitative"}, "shape": {"field": "lab", "type": "nominal", "legend": null, "scale": {"domain": ["lecture rapide", "écriture rapide", "lecture lente", "écriture lente"], "range": ["M-4.98,-1.04H4.98Q5.28,-1.04,5.28,-0.74V0.74Q5.28,1.04,4.98,1.04H-4.98Q-5.28,1.04,-5.28,0.74V-0.74Q-5.28,-1.04,-4.98,-1.04Z", "M-5.27,-1.04H5.27Q5.57,-1.04,5.57,-0.74V0.74Q5.57,1.04,5.27,1.04H-5.27Q-5.57,1.04,-5.57,0.74V-0.74Q-5.57,-1.04,-5.27,-1.04Z", "M-4.5,-1.04H4.5Q4.8,-1.04,4.8,-0.74V0.74Q4.8,1.04,4.5,1.04H-4.5Q-4.8,1.04,-4.8,0.74V-0.74Q-4.8,-1.04,-4.5,-1.04Z", "M-4.77,-1.04H4.77Q5.07,-1.04,5.07,-0.74V0.74Q5.07,1.04,4.77,1.04H-4.77Q-5.07,1.04,-5.07,0.74V-0.74Q-5.07,-1.04,-4.77,-1.04Z"]}}}},
  {"data": {"name": "hl"}, "mark": {"type": "text", "fontSize": 16, "font": "Liberation Sans", "color": "#000000", "baseline": "middle", "align": "center"}, "encoding": {"x": {"field": "lx", "type": "quantitative"}, "y": {"field": "y", "type": "quantitative"}, "text": {"field": "lab"}}}
 ]},
 {"width": 35, "height": 437, "data": {"values": []}, "mark": "point"},
 {"width": 302, "height": 437, "view": {"fill": "#EBEBEB", "stroke": null}, "layer": [
  {"data": {"name": "hl"}, "mark": {"type": "rule", "strokeDash": [11, 11], "strokeWidth": 2.8, "color": "#000000"}, "encoding": {"y": {"field": "y", "type": "quantitative", "scale": {"domain": [1.24, 8.02], "nice": false, "zero": false}, "axis": {"title": null, "values": [2,3,4,5,6,7,8], "labels": false, "ticks": false, "gridWidth": {"condition": {"test": "datum.value % 2 === 0", "value": 1.5}, "value": 0.75}}}}},
  {"data": {"name": "ks"}, "transform": [{"fold": ["Stream", "Benchmark"], "as": ["serie", "bw"]}], "mark": {"type": "circle", "size": 48, "opacity": 1}, "encoding": {"x": {"field": "x", "type": "quantitative", "scale": {"domain": [-0.05, 1.05], "nice": false, "zero": false}, "axis": {"title": null, "values": [0,0.125,0.25,0.375,0.5,0.625,0.75,0.875,1], "labels": false, "ticks": false, "gridWidth": {"condition": {"test": "datum.value*4 % 1 === 0", "value": 1.5}, "value": 0.75}}}, "y": {"field": "bw", "type": "quantitative"}, "color": {"field": "serie", "type": "nominal"}}},
  {"data": {"name": "ksm"}, "mark": {"type": "line", "strokeWidth": 5, "strokeJoin": "miter"}, "encoding": {"x": {"field": "x", "type": "quantitative"}, "y": {"field": "y", "type": "quantitative"}, "color": {"datum": "Modèle", "type": "nominal"}}},
  {"data": {"name": "hl"}, "mark": {"type": "point", "filled": true, "size": 400, "fill": "#FFFFFF", "stroke": "#000000", "strokeWidth": 1.2, "opacity": 1}, "encoding": {"x": {"field": "lx", "type": "quantitative"}, "y": {"field": "y", "type": "quantitative"}, "shape": {"field": "lab", "type": "nominal", "legend": null}}},
  {"data": {"name": "hl"}, "mark": {"type": "text", "fontSize": 16, "font": "Liberation Sans", "color": "#000000", "baseline": "middle", "align": "center"}, "encoding": {"x": {"field": "lx", "type": "quantitative"}, "y": {"field": "y", "type": "quantitative"}, "text": {"field": "lab"}}}
 ]},
 {"width": 35, "height": 437, "data": {"values": []}, "mark": "point"},
 {"width": 296, "height": 437, "view": {"fill": "#EBEBEB", "stroke": null}, "layer": [
  {"data": {"name": "hl"}, "mark": {"type": "rule", "strokeDash": [11, 11], "strokeWidth": 2.8, "color": "#000000"}, "encoding": {"y": {"field": "y", "type": "quantitative", "scale": {"domain": [1.24, 8.02], "nice": false, "zero": false}, "axis": {"title": null, "values": [2,3,4,5,6,7,8], "labels": false, "ticks": false, "gridWidth": {"condition": {"test": "datum.value % 2 === 0", "value": 1.5}, "value": 0.75}}}}},
  {"data": {"name": "kt"}, "transform": [{"fold": ["Stream", "Benchmark"], "as": ["serie", "bw"]}], "mark": {"type": "circle", "size": 48, "opacity": 1}, "encoding": {"x": {"field": "x", "type": "quantitative", "scale": {"domain": [-0.05, 1.03], "nice": false, "zero": false}, "axis": {"title": null, "values": [0,0.125,0.25,0.375,0.5,0.625,0.75,0.875,1], "labels": false, "ticks": false, "gridWidth": {"condition": {"test": "datum.value*4 % 1 === 0", "value": 1.5}, "value": 0.75}}}, "y": {"field": "bw", "type": "quantitative"}, "color": {"field": "serie", "type": "nominal"}}},
  {"data": {"name": "ktm"}, "mark": {"type": "line", "strokeWidth": 5, "strokeJoin": "miter"}, "encoding": {"x": {"field": "x", "type": "quantitative"}, "y": {"field": "y", "type": "quantitative"}, "color": {"datum": "Modèle", "type": "nominal"}}},
  {"data": {"name": "hl"}, "mark": {"type": "point", "filled": true, "size": 400, "fill": "#FFFFFF", "stroke": "#000000", "strokeWidth": 1.2, "opacity": 1}, "encoding": {"x": {"field": "lx", "type": "quantitative"}, "y": {"field": "y", "type": "quantitative"}, "shape": {"field": "lab", "type": "nominal", "legend": null}}},
  {"data": {"name": "hl"}, "mark": {"type": "text", "fontSize": 16, "font": "Liberation Sans", "color": "#000000", "baseline": "middle", "align": "center"}, "encoding": {"x": {"field": "lx", "type": "quantitative"}, "y": {"field": "y", "type": "quantitative"}, "text": {"field": "lab"}}}
 ]},
 {"width": 31, "height": 437, "view": {"fill": "#D9D9D9", "stroke": null}, "data": {"values": [{"t": "Knights Landing"}]}, "mark": {"type": "text", "angle": 90, "fontSize": 22.4, "font": "Liberation Sans", "color": "#1A1A1A", "baseline": "middle", "align": "center"}, "encoding": {"text": {"field": "t"}}},

 {"width": 1, "height": 36, "data": {"values": []}, "mark": "point"},
 {"width": 1, "height": 36, "data": {"values": []}, "mark": "point"},
 {"width": 1, "height": 36, "data": {"values": []}, "mark": "point"},
 {"width": 1, "height": 36, "data": {"values": []}, "mark": "point"},
 {"width": 1, "height": 36, "data": {"values": []}, "mark": "point"},
 {"width": 1, "height": 36, "data": {"values": []}, "mark": "point"},

 {"width": 302, "height": 442, "view": {"fill": "#EBEBEB", "stroke": null}, "layer": [
  {"data": {"name": "hl"}, "mark": {"type": "rule", "strokeDash": [11, 11], "strokeWidth": 2.8, "color": "#000000"}, "encoding": {"y": {"field": "y", "type": "quantitative", "scale": {"domain": [1.25, 8.08], "nice": false, "zero": false}, "axis": {"title": null, "values": [2,3,4,5,6,7,8], "labelExpr": "datum.value % 2 === 0 ? format(datum.value, 'd') : ''", "gridWidth": {"condition": {"test": "datum.value % 2 === 0", "value": 1.5}, "value": 0.75}, "tickOpacity": {"condition": {"test": "datum.value % 2 === 0", "value": 1}, "value": 0}}}}},
  {"data": {"name": "sd"}, "transform": [{"fold": ["Stream", "Benchmark"], "as": ["serie", "bw"]}], "mark": {"type": "circle", "size": 48, "opacity": 1}, "encoding": {"x": {"field": "x", "type": "quantitative", "scale": {"domain": [-0.05, 1.05], "nice": false, "zero": false}, "axis": {"title": null, "values": [0,0.125,0.25,0.375,0.5,0.625,0.75,0.875,1], "labelExpr": "datum.value*4 % 1 === 0 ? format(datum.value, '.0%') : ''", "gridWidth": {"condition": {"test": "datum.value*4 % 1 === 0", "value": 1.5}, "value": 0.75}, "tickOpacity": {"condition": {"test": "datum.value*4 % 1 === 0", "value": 1}, "value": 0}}}, "y": {"field": "bw", "type": "quantitative"}, "color": {"field": "serie", "type": "nominal"}}},
  {"data": {"name": "sdm"}, "mark": {"type": "line", "strokeWidth": 5, "strokeJoin": "miter"}, "encoding": {"x": {"field": "x", "type": "quantitative"}, "y": {"field": "y", "type": "quantitative"}, "color": {"datum": "Modèle", "type": "nominal"}}},
  {"data": {"name": "hl"}, "mark": {"type": "point", "filled": true, "size": 400, "fill": "#FFFFFF", "stroke": "#000000", "strokeWidth": 1.2, "opacity": 1}, "encoding": {"x": {"field": "lx", "type": "quantitative"}, "y": {"field": "y", "type": "quantitative"}, "shape": {"field": "lab", "type": "nominal", "legend": null}}},
  {"data": {"name": "hl"}, "mark": {"type": "text", "fontSize": 16, "font": "Liberation Sans", "color": "#000000", "baseline": "middle", "align": "center"}, "encoding": {"x": {"field": "lx", "type": "quantitative"}, "y": {"field": "y", "type": "quantitative"}, "text": {"field": "lab"}}}
 ]},
 {"width": 35, "height": 442, "data": {"values": []}, "mark": "point"},
 {"width": 302, "height": 442, "view": {"fill": "#EBEBEB", "stroke": null}, "layer": [
  {"data": {"name": "hl"}, "mark": {"type": "rule", "strokeDash": [11, 11], "strokeWidth": 2.8, "color": "#000000"}, "encoding": {"y": {"field": "y", "type": "quantitative", "scale": {"domain": [1.25, 8.08], "nice": false, "zero": false}, "axis": {"title": null, "values": [2,3,4,5,6,7,8], "labels": false, "ticks": false, "gridWidth": {"condition": {"test": "datum.value % 2 === 0", "value": 1.5}, "value": 0.75}}}}},
  {"data": {"name": "ss"}, "transform": [{"fold": ["Stream", "Benchmark"], "as": ["serie", "bw"]}], "mark": {"type": "circle", "size": 48, "opacity": 1}, "encoding": {"x": {"field": "x", "type": "quantitative", "scale": {"domain": [-0.05, 1.05], "nice": false, "zero": false}, "axis": {"title": "% en mémoire rapide", "values": [0,0.125,0.25,0.375,0.5,0.625,0.75,0.875,1], "labelExpr": "datum.value*4 % 1 === 0 ? format(datum.value, '.0%') : ''", "gridWidth": {"condition": {"test": "datum.value*4 % 1 === 0", "value": 1.5}, "value": 0.75}, "tickOpacity": {"condition": {"test": "datum.value*4 % 1 === 0", "value": 1}, "value": 0}}}, "y": {"field": "bw", "type": "quantitative"}, "color": {"field": "serie", "type": "nominal"}}},
  {"data": {"name": "ssm"}, "mark": {"type": "line", "strokeWidth": 5, "strokeJoin": "miter"}, "encoding": {"x": {"field": "x", "type": "quantitative"}, "y": {"field": "y", "type": "quantitative"}, "color": {"datum": "Modèle", "type": "nominal"}}},
  {"data": {"name": "hl"}, "mark": {"type": "point", "filled": true, "size": 400, "fill": "#FFFFFF", "stroke": "#000000", "strokeWidth": 1.2, "opacity": 1}, "encoding": {"x": {"field": "lx", "type": "quantitative"}, "y": {"field": "y", "type": "quantitative"}, "shape": {"field": "lab", "type": "nominal", "legend": null}}},
  {"data": {"name": "hl"}, "mark": {"type": "text", "fontSize": 16, "font": "Liberation Sans", "color": "#000000", "baseline": "middle", "align": "center"}, "encoding": {"x": {"field": "lx", "type": "quantitative"}, "y": {"field": "y", "type": "quantitative"}, "text": {"field": "lab"}}}
 ]},
 {"width": 35, "height": 442, "data": {"values": []}, "mark": "point"},
 {"width": 296, "height": 442, "view": {"fill": "#EBEBEB", "stroke": null}, "layer": [
  {"data": {"name": "hl"}, "mark": {"type": "rule", "strokeDash": [11, 11], "strokeWidth": 2.8, "color": "#000000"}, "encoding": {"y": {"field": "y", "type": "quantitative", "scale": {"domain": [1.25, 8.08], "nice": false, "zero": false}, "axis": {"title": null, "values": [2,3,4,5,6,7,8], "labels": false, "ticks": false, "gridWidth": {"condition": {"test": "datum.value % 2 === 0", "value": 1.5}, "value": 0.75}}}}},
  {"data": {"name": "st"}, "transform": [{"fold": ["Stream", "Benchmark"], "as": ["serie", "bw"]}], "mark": {"type": "circle", "size": 48, "opacity": 1}, "encoding": {"x": {"field": "x", "type": "quantitative", "scale": {"domain": [-0.05, 1.03], "nice": false, "zero": false}, "axis": {"title": null, "values": [0,0.125,0.25,0.375,0.5,0.625,0.75,0.875,1], "labelExpr": "datum.value*4 % 1 === 0 ? format(datum.value, '.0%') : ''", "gridWidth": {"condition": {"test": "datum.value*4 % 1 === 0", "value": 1.5}, "value": 0.75}, "tickOpacity": {"condition": {"test": "datum.value*4 % 1 === 0", "value": 1}, "value": 0}}}, "y": {"field": "bw", "type": "quantitative"}, "color": {"field": "serie", "type": "nominal"}}},
  {"data": {"name": "stm"}, "mark": {"type": "line", "strokeWidth": 5, "strokeJoin": "miter"}, "encoding": {"x": {"field": "x", "type": "quantitative"}, "y": {"field": "y", "type": "quantitative"}, "color": {"datum": "Modèle", "type": "nominal"}}},
  {"data": {"name": "hl"}, "mark": {"type": "point", "filled": true, "size": 400, "fill": "#FFFFFF", "stroke": "#000000", "strokeWidth": 1.2, "opacity": 1}, "encoding": {"x": {"field": "lx", "type": "quantitative"}, "y": {"field": "y", "type": "quantitative"}, "shape": {"field": "lab", "type": "nominal", "legend": null}}},
  {"data": {"name": "hl"}, "mark": {"type": "text", "fontSize": 16, "font": "Liberation Sans", "color": "#000000", "baseline": "middle", "align": "center"}, "encoding": {"x": {"field": "lx", "type": "quantitative"}, "y": {"field": "y", "type": "quantitative"}, "text": {"field": "lab"}}}
 ]},
 {"width": 31, "height": 442, "view": {"fill": "#D9D9D9", "stroke": null}, "data": {"values": [{"t": "Skylake"}]}, "mark": {"type": "text", "angle": 90, "fontSize": 22.4, "font": "Liberation Sans", "color": "#1A1A1A", "baseline": "middle", "align": "center"}, "encoding": {"text": {"field": "t"}}}
]
}
